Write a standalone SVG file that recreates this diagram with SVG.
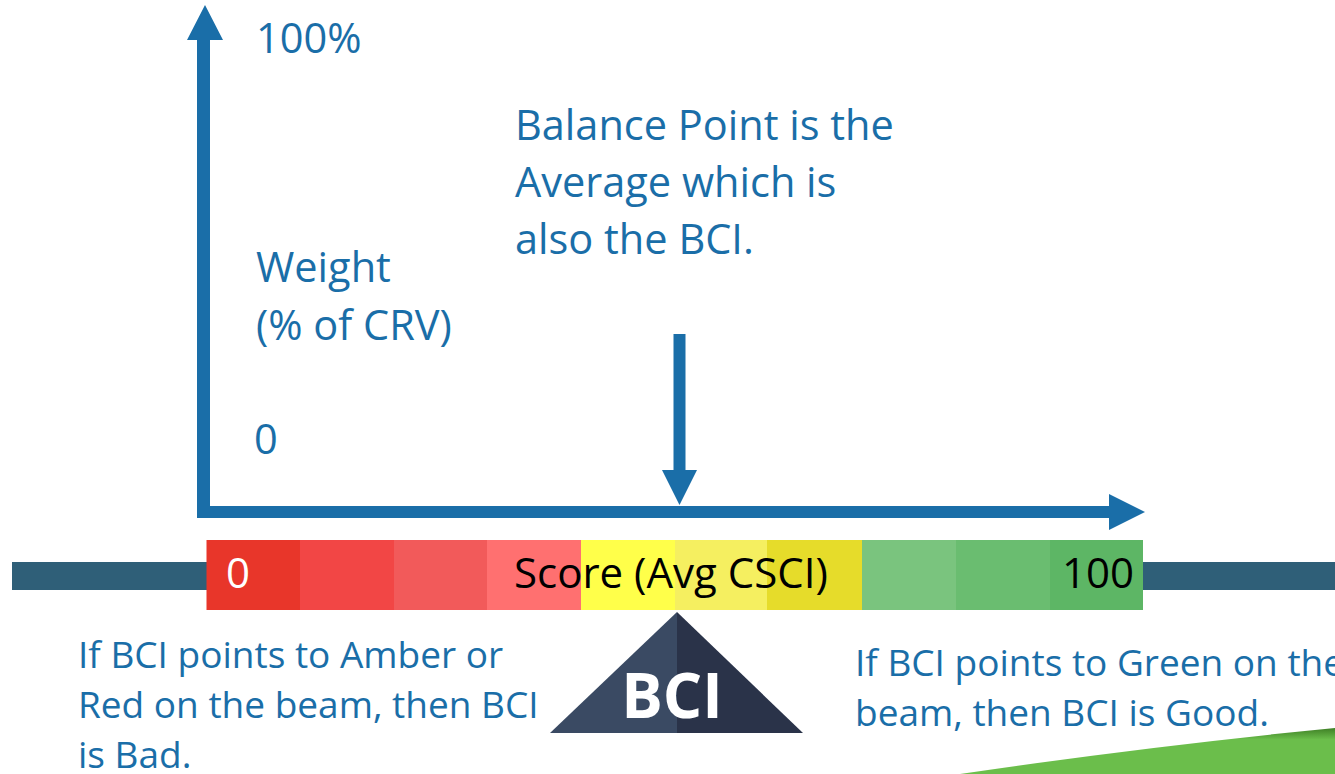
<svg xmlns="http://www.w3.org/2000/svg" width="1335" height="774" viewBox="0 0 1335 774">
<style>
.t{font-family:"Open Sans","Noto Sans",sans-serif;fill:#1A6EA8}
.big{font-size:41.5px}
.sm{font-size:37px}
.blk{font-family:"Open Sans","Noto Sans",sans-serif;font-size:42px;fill:#000}
.ax{fill:#1A6EA8}
</style>
<defs>
<linearGradient id="sw" x1="0" y1="0" x2="0" y2="1">
<stop offset="0" stop-color="#3E7F25"/>
<stop offset="0.25" stop-color="#6BBE4B"/>
<stop offset="1" stop-color="#6BBE4B"/>
</linearGradient>
</defs>
<rect width="1335" height="774" fill="#fff"/>
<path d="M 960 774 Q 1150 746 1335 728 L 1335 774 Z" fill="url(#sw)"/>
<g id="beam">
<rect x="12" y="562" width="196" height="28" fill="#2F5F78"/>
<rect x="1142" y="562" width="193" height="28" fill="#2F5F78"/>
<rect x="206.5" y="540" width="94" height="70" fill="#E8362A"/>
<rect x="300" y="540" width="94" height="70" fill="#F24645"/>
<rect x="394" y="540" width="93" height="70" fill="#F25A5A"/>
<rect x="487" y="540" width="94.5" height="70" fill="#FF7070"/>
<rect x="581" y="540" width="94.5" height="70" fill="#FFFF4A"/>
<rect x="675" y="540" width="92.5" height="70" fill="#F5EF60"/>
<rect x="767" y="540" width="95.5" height="70" fill="#E6DC2A"/>
<rect x="862" y="540" width="94.5" height="70" fill="#7AC47E"/>
<rect x="956" y="540" width="94.5" height="70" fill="#6ABD70"/>
<rect x="1050" y="540" width="93" height="70" fill="#5DB665"/>
<text x="226" y="588" style="font-family:'Open Sans','Noto Sans',sans-serif;font-size:42px;fill:#fff">0</text>
<text x="514" y="588" class="blk">Score (Avg CSCI)</text>
<text x="1134" y="588" class="blk" text-anchor="end">100</text>
</g>
<g id="fulcrum">
<polygon points="677,612 550,733 677,733" fill="#3A4A63"/>
<polygon points="677,612 803,733 677,733" fill="#2A3349"/>
<text x="672" y="718" text-anchor="middle" style="font-family:'Open Sans','Noto Sans',sans-serif;font-size:62px;font-weight:bold;fill:#fff">BCI</text>
</g>
<g id="connectors">
<path class="ax" d="M197 518 L197 40 L187 40 L205 5 L223 40 L210 40 L210 506 L1109 506 L1109 494 L1145 512 L1109 530 L1109 518 Z"/>
<path class="ax" d="M673.5 334 L685.5 334 L685.5 470 L697 470 L679.5 505 L662 470 L673.5 470 Z"/>
</g>
<g id="labels">
<text class="t big" x="256" y="53">100%</text>
<text class="t big" x="256" y="282">Weight</text>
<text class="t big" x="256" y="340">(% of CRV)</text>
<text class="t big" x="254" y="454">0</text>
<text class="t big" x="515" y="140">Balance Point is the</text>
<text class="t big" x="515" y="197">Average which is</text>
<text class="t big" x="515" y="254">also the BCI.</text>
<text class="t sm" x="78" y="668">If BCI points to Amber or</text>
<text class="t sm" x="78" y="718">Red on the beam, then BCI</text>
<text class="t sm" x="78" y="768">is Bad.</text>
<text class="t sm" x="855" y="676">If BCI points to Green on the</text>
<text class="t sm" x="855" y="726">beam, then BCI is Good.</text>
</g>
</svg>
